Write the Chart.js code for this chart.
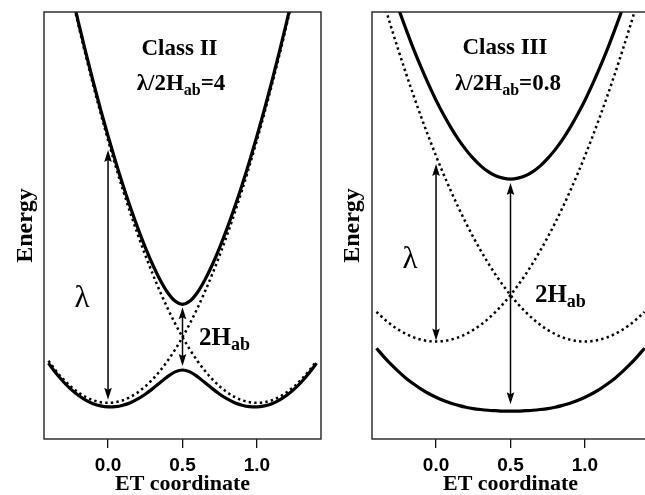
<!DOCTYPE html>
<html>
<head>
<meta charset="utf-8">
<script src="https://cdn.jsdelivr.net/npm/chart.js@4.4.1/dist/chart.umd.min.js"></script>
<style>
  html, body { margin: 0; padding: 0; background: #fff; overflow: hidden; }
  #wrap { position: relative; width: 645px; height: 495px; overflow: hidden; }
  #left  { position: absolute; left: 0;     top: 0; }
  #right { position: absolute; left: 330px; top: 0; }
</style>
</head>
<body>
<div id="wrap">
  <canvas id="left" width="330" height="495"></canvas>
  <canvas id="right" width="330" height="495"></canvas>
</div>
<script>
// Electron-transfer coordinate (shared by both panels)
const etCoord = [-0.4, -0.35, -0.3, -0.25, -0.2, -0.15, -0.1, -0.05, 0, 0.05, 0.1, 0.15, 0.2, 0.25,
  0.3, 0.35, 0.4, 0.45, 0.5, 0.55, 0.6, 0.65, 0.7, 0.75, 0.8, 0.85, 0.9, 0.95, 1, 1.05, 1.1,
  1.15, 1.2, 1.25, 1.3, 1.35, 1.4];
const xTickValues = [0.0, 0.5, 1.0];

// Class II (lambda/2Hab = 4): diabatic parabolas and adiabatic surfaces
const classII_diabaticA = [0.64, 0.49, 0.36, 0.25, 0.16, 0.09, 0.04, 0.01, 0, 0.01, 0.04, 0.09, 0.16,
  0.25, 0.36, 0.49, 0.64, 0.81, 1, 1.21, 1.44, 1.69, 1.96, 2.25, 2.56, 2.89, 3.24, 3.61, 4, 4.41,
  4.84, 5.29, 5.76, 6.25, 6.76, 7.29, 7.84];
const classII_diabaticB = [7.84, 7.29, 6.76, 6.25, 5.76, 5.29, 4.84, 4.41, 4, 3.61, 3.24, 2.89, 2.56,
  2.25, 1.96, 1.69, 1.44, 1.21, 1, 0.81, 0.64, 0.49, 0.36, 0.25, 0.16, 0.09, 0.04, 0.01, 0, 0.01,
  0.04, 0.09, 0.16, 0.25, 0.36, 0.49, 0.64];
const classII_lower = [0.605, 0.453, 0.321, 0.209, 0.116, 0.042, -0.012, -0.046, -0.062, -0.058,
  -0.036, 0.003, 0.060, 0.132, 0.217, 0.309, 0.400, 0.472, 0.500, 0.472, 0.400, 0.309, 0.217,
  0.132, 0.060, 0.003, -0.036, -0.058, -0.062, -0.046, -0.012, 0.042, 0.116, 0.209, 0.321, 0.453,
  0.605];
const classII_upper = [7.875, 7.327, 6.799, 6.291, 5.804, 5.338, 4.892, 4.466, 4.062, 3.678, 3.316,
  2.977, 2.660, 2.368, 2.103, 1.871, 1.680, 1.549, 1.500, 1.549, 1.680, 1.871, 2.103, 2.368, 2.660,
  2.977, 3.316, 3.678, 4.062, 4.466, 4.892, 5.338, 5.804, 6.291, 6.799, 7.327, 7.875];

// Class III (lambda/2Hab = 0.8)
const classIII_diabaticA = [0.128, 0.098, 0.072, 0.05, 0.032, 0.018, 0.008, 0.002, 0, 0.002, 0.008,
  0.018, 0.032, 0.05, 0.072, 0.098, 0.128, 0.162, 0.2, 0.242, 0.288, 0.338, 0.392, 0.45, 0.512,
  0.578, 0.648, 0.722, 0.8, 0.882, 0.968, 1.058, 1.152, 1.25, 1.352, 1.458, 1.568];
const classIII_diabaticB = [1.568, 1.458, 1.352, 1.25, 1.152, 1.058, 0.968, 0.882, 0.8, 0.722, 0.648,
  0.578, 0.512, 0.45, 0.392, 0.338, 0.288, 0.242, 0.2, 0.162, 0.128, 0.098, 0.072, 0.05, 0.032,
  0.018, 0.008, 0.002, 0, 0.002, 0.008, 0.018, 0.032, 0.05, 0.072, 0.098, 0.128];
const classIII_lower = [-0.029, -0.066, -0.100, -0.131, -0.159, -0.183, -0.205, -0.224, -0.240,
  -0.254, -0.266, -0.275, -0.283, -0.289, -0.293, -0.296, -0.298, -0.300, -0.300, -0.300, -0.298,
  -0.296, -0.293, -0.289, -0.283, -0.275, -0.266, -0.254, -0.240, -0.224, -0.205, -0.183, -0.159,
  -0.131, -0.100, -0.066, -0.029];
const classIII_upper = [1.725, 1.622, 1.524, 1.431, 1.343, 1.259, 1.181, 1.108, 1.040, 0.978, 0.922,
  0.871, 0.827, 0.789, 0.757, 0.732, 0.714, 0.704, 0.700, 0.704, 0.714, 0.732, 0.757, 0.789, 0.827,
  0.871, 0.922, 0.978, 1.040, 1.108, 1.181, 1.259, 1.343, 1.431, 1.524, 1.622, 1.725];

const SERIF = "'Liberation Serif', 'DejaVu Serif', serif";
const SANS = "'Liberation Sans', Arial, sans-serif";
const iZero = etCoord.indexOf(0);
const iHalf = etCoord.indexOf(0.5);

function pts(values) {
  return etCoord.map((x, i) => ({ x: x, y: values[i] }));
}

function solid(values) {
  return { data: pts(values), borderColor: '#000', borderWidth: 3.2, pointRadius: 0,
    cubicInterpolationMode: 'monotone', fill: false };
}
function dotted(values) {
  return { data: pts(values), borderColor: '#000', borderWidth: 2.5, borderDash: [2.4, 3.2],
    pointRadius: 0, cubicInterpolationMode: 'monotone', fill: false };
}

// Box around the plotting area
const framePlugin = {
  id: 'frame',
  afterDatasetsDraw(chart) {
    const { ctx, chartArea: a } = chart;
    ctx.save();
    ctx.strokeStyle = '#222';
    ctx.lineWidth = 1.4;
    ctx.strokeRect(a.left, a.top, a.right - a.left, a.bottom - a.top);
    ctx.restore();
  }
};

function drawRich(ctx, parts, x, y, align) {
  let w = 0;
  parts.forEach(p => { ctx.font = p.font; p.w = ctx.measureText(p.text).width; w += p.w; });
  let cx = align === 'center' ? x - w / 2 : x;
  ctx.textAlign = 'left';
  ctx.textBaseline = 'alphabetic';
  parts.forEach(p => { ctx.font = p.font; ctx.fillText(p.text, cx, y + (p.dy || 0)); cx += p.w; });
}

function arrowHead(ctx, x, y, dir) {
  // dir = -1: pointing up, +1: pointing down
  ctx.beginPath();
  ctx.moveTo(x, y);
  ctx.lineTo(x - 3.8, y - dir * 12);
  ctx.lineTo(x, y - dir * 10);
  ctx.lineTo(x + 3.8, y - dir * 12);
  ctx.closePath();
  ctx.fill();
}

// Double-headed arrows and text labels inside each panel
const notesPlugin = {
  id: 'panelNotes',
  afterDatasetsDraw(chart, args, opts) {
    const { ctx } = chart;
    const xs = chart.scales.x, ys = chart.scales.y;
    ctx.save();
    ctx.fillStyle = '#000';
    ctx.strokeStyle = '#000';
    (opts.arrows || []).forEach(ar => {
      const px = xs.getPixelForValue(ar.x);
      const yBottom = ys.getPixelForValue(ar.from) - ar.insetBottom;
      const yTop = ys.getPixelForValue(ar.to) + ar.insetTop;
      ctx.lineWidth = 1.5;
      ctx.beginPath();
      ctx.moveTo(px, yBottom - 6);
      ctx.lineTo(px, yTop + 6);
      ctx.stroke();
      arrowHead(ctx, px, yTop, -1);
      arrowHead(ctx, px, yBottom, 1);
    });
    (opts.labels || []).forEach(lb => {
      drawRich(ctx, lb.parts, xs.getPixelForValue(lb.x), ys.getPixelForValue(lb.y), lb.align);
    });
    ctx.restore();
  }
};

function panel(canvasId, datasets, yMin, yMax, yAxisWidth, padRight, titlePad, notes) {
  return new Chart(document.getElementById(canvasId), {
    type: 'line',
    data: { datasets: datasets },
    options: {
      responsive: false,
      animation: false,
      devicePixelRatio: 1,
      layout: { padding: { top: 12, right: padRight, left: 0, bottom: 0 } },
      plugins: { legend: { display: false }, tooltip: { enabled: false }, panelNotes: notes },
      scales: {
        x: {
          type: 'linear', min: -0.43, max: 1.43,
          afterBuildTicks: s => { s.ticks = xTickValues.map(v => ({ value: v })); },
          afterFit: s => { s.height = 56; },
          border: { display: false },
          grid: { display: true, drawOnChartArea: false, drawTicks: true, tickLength: 9,
                  color: '#111', lineWidth: 1.3 },
          ticks: { color: '#000', padding: 6, maxRotation: 0, autoSkip: false,
                   font: { family: SANS, weight: 'bold', size: 19 },
                   callback: v => Number(v).toFixed(1) },
          title: { display: true, text: 'ET coordinate', color: '#000',
                   font: { family: SERIF, weight: 'bold', size: 22, lineHeight: 1 },
                   padding: { top: 0, bottom: 0 } }
        },
        y: {
          min: yMin, max: yMax,
          afterFit: s => { s.width = yAxisWidth; },
          border: { display: false },
          grid: { display: false },
          ticks: { display: false },
          title: { display: true, text: 'Energy', color: '#000',
                   font: { family: SERIF, weight: 'bold', size: 24, lineHeight: 1 },
                   padding: { top: titlePad, bottom: 0 } }
        }
      }
    },
    plugins: [framePlugin, notesPlugin]
  });
}

const titleFont = 'bold 23px ' + SERIF;
const subFont = 'bold 16px ' + SERIF;
const bigFont = 'bold 25px ' + SERIF;
const bigSub = 'bold 18px ' + SERIF;
const lambdaFont = '31px ' + SERIF;

panel('left',
  [dotted(classII_diabaticA), dotted(classII_diabaticB), solid(classII_lower), solid(classII_upper)],
  -0.55, 5.95, 44, 9, 13.5,
  {
    arrows: [
      { x: etCoord[iZero], from: classII_diabaticA[iZero], to: classII_diabaticB[iZero], insetBottom: 3, insetTop: 10 },
      { x: etCoord[iHalf], from: classII_lower[iHalf], to: classII_upper[iHalf], insetBottom: 4, insetTop: 3 }
    ],
    labels: [
      { x: 0.48, y: 5.30, align: 'center', parts: [{ text: 'Class II', font: titleFont }] },
      { x: 0.49, y: 4.76, align: 'center', parts: [
        { text: 'λ/2H', font: titleFont }, { text: 'ab', font: subFont, dy: 5 }, { text: '=4', font: titleFont }] },
      { x: -0.174, y: 1.46, align: 'center', parts: [{ text: 'λ', font: lambdaFont }] },
      { x: 0.611, y: 0.88, align: 'left', parts: [
        { text: '2H', font: bigFont }, { text: 'ab', font: bigSub, dy: 5 }] }
    ]
  });

panel('right',
  [dotted(classIII_diabaticA), dotted(classIII_diabaticB), solid(classIII_lower), solid(classIII_upper)],
  -0.42, 1.42, 42, 11, 10.5,
  {
    arrows: [
      { x: etCoord[iZero], from: classIII_diabaticA[iZero], to: classIII_diabaticB[iZero], insetBottom: 1, insetTop: 8 },
      { x: etCoord[iHalf], from: classIII_lower[iHalf], to: classIII_upper[iHalf], insetBottom: 7, insetTop: 4 }
    ],
    labels: [
      { x: 0.463, y: 1.239, align: 'center', parts: [{ text: 'Class III', font: titleFont }] },
      { x: 0.483, y: 1.084, align: 'center', parts: [
        { text: 'λ/2H', font: titleFont }, { text: 'ab', font: subFont, dy: 5 }, { text: '=0.8', font: titleFont }] },
      { x: -0.174, y: 0.317, align: 'center', parts: [{ text: 'λ', font: lambdaFont }] },
      { x: 0.664, y: 0.171, align: 'left', parts: [
        { text: '2H', font: bigFont }, { text: 'ab', font: bigSub, dy: 5 }] }
    ]
  });
</script>
</body>
</html>
